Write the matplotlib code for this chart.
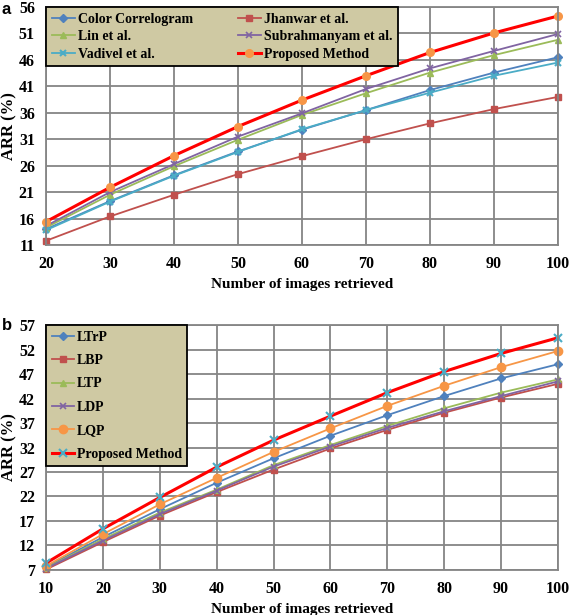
import matplotlib.pyplot as plt
import numpy as np

# panel a
xa = [20, 30, 40, 50, 60, 70, 80, 90, 100]
color_corr = [14.0, 19.3, 24.2, 28.7, 32.8, 36.5, 40.3, 43.6, 46.5]
jhanwar = [11.8, 16.4, 20.5, 24.4, 27.8, 31.0, 34.0, 36.7, 39.0]
lin = [14.3, 20.5, 25.9, 30.9, 35.6, 39.7, 43.6, 46.9, 49.8]
subrahmanyam = [14.6, 21.0, 26.3, 31.5, 35.9, 40.5, 44.4, 47.7, 50.9]
vadivel = [13.8, 19.2, 24.1, 28.6, 32.9, 36.5, 39.8, 43.0, 45.5]
proposed_a = [15.4, 21.9, 27.9, 33.4, 38.4, 43.0, 47.4, 51.1, 54.3]

# panel b
xb = [10, 20, 30, 40, 50, 60, 70, 80, 90, 100]
ltrp = [7.6, 13.7, 19.4, 24.8, 29.8, 34.4, 38.6, 42.5, 46.1, 49.0]
lbp = [7.1, 12.7, 18.1, 22.9, 27.5, 31.8, 35.6, 39.1, 42.2, 45.0]
ltp = [7.4, 13.3, 18.7, 23.4, 28.4, 32.5, 36.4, 40.0, 43.2, 45.9]
ldp = [7.3, 13.0, 18.4, 23.2, 28.1, 32.2, 36.0, 39.4, 42.5, 45.5]
lqp = [7.8, 14.3, 20.4, 25.8, 31.1, 35.9, 40.5, 44.6, 48.4, 51.7]
proposed_b = [8.4, 15.4, 21.8, 28.0, 33.5, 38.4, 43.2, 47.5, 51.2, 54.4]

BLUE, RED, GREEN, PURPLE, CYAN, ORANGE = '#4F81BD', '#C0504D', '#9BBB59', '#8064A2', '#4BACC6', '#F79646'
serif = 'Liberation Serif'

fig = plt.figure(figsize=(5.72, 6.15), dpi=100)
ax1 = fig.add_axes([0.0804, 0.6016, 0.8951, 0.387])
ax2 = fig.add_axes([0.0804, 0.0732, 0.8951, 0.3983])


def style(ax, xs, yticks):
    ax.set_xlim(xs[0], xs[-1])
    ax.set_ylim(yticks[0], yticks[-1])
    ax.set_xticks(xs)
    ax.set_yticks(yticks)
    ax.grid(True, color='#858585', lw=1.3)
    ax.set_axisbelow(True)
    for s in ax.spines.values():
        s.set_color('#858585')
        s.set_linewidth(1.3)
    ax.tick_params(length=0, pad=8)
    for t in ax.get_xticklabels() + ax.get_yticklabels():
        t.set_fontfamily(serif)
        t.set_fontweight('bold')
        t.set_fontsize(11.5)
    ax.set_xlabel('Number of images retrieved', fontfamily=serif, fontweight='bold', fontsize=11)
    ax.set_ylabel('ARR (%)', fontfamily=serif, fontweight='bold', fontsize=12, labelpad=1)


def legend_box(leg):
    fr = leg.get_frame()
    fr.set_facecolor('#CFC9A3')
    fr.set_edgecolor('black')
    fr.set_linewidth(1.3)
    fr.set_alpha(1)


kw = dict(lw=1.3, ms=5, clip_on=False)
h1 = ax1.plot(xa, color_corr, '-D', color=BLUE, ms=4, lw=1.3, clip_on=False, label='Color Correlogram')[0]
h2 = ax1.plot(xa, jhanwar, '-s', color=RED, label='Jhanwar et al.', **kw)[0]
h3 = ax1.plot(xa, lin, '-^', color=GREEN, label='Lin et al.', **kw)[0]
h4 = ax1.plot(xa, subrahmanyam, '-x', color=PURPLE, mew=1.2, label='Subrahmanyam et al.', **kw)[0]
h5 = ax1.plot(xa, vadivel, '-x', color=CYAN, mew=1.5, label='Vadivel et al.', **kw)[0]
h6 = ax1.plot(xa, proposed_a, '-o', color='#FF0000', mfc=ORANGE, mec=ORANGE, lw=2.2, ms=5.5,
              clip_on=False, label='Proposed Method')[0]
style(ax1, xa, np.arange(11, 57, 5))
leg1 = ax1.legend(handles=[h1, h3, h5, h2, h4, h6], ncol=2, loc='upper left',
                  bbox_to_anchor=(0, 1), borderaxespad=0, fancybox=False, borderpad=0.4,
                  prop={'family': serif, 'weight': 'bold', 'size': 10},
                  handlelength=1.7, columnspacing=3.2, labelspacing=0.33, handletextpad=0.2)
legend_box(leg1)

g1 = ax2.plot(xb, ltrp, '-D', color=BLUE, ms=4, lw=1.3, clip_on=False, label='LTrP')[0]
g2 = ax2.plot(xb, lbp, '-s', color=RED, label='LBP', **kw)[0]
g3 = ax2.plot(xb, ltp, '-^', color=GREEN, label='LTP', **kw)[0]
g4 = ax2.plot(xb, ldp, '-x', color=PURPLE, mew=1.2, label='LDP', **kw)[0]
g5 = ax2.plot(xb, lqp, '-o', color=ORANGE, label='LQP', lw=1.3, ms=6, clip_on=False)[0]
g6 = ax2.plot(xb, proposed_b, '-x', color='#FF0000', mec=CYAN, mew=1.5, lw=2.2, ms=5.5,
              clip_on=False, label='Proposed Method')[0]
style(ax2, xb, np.arange(7, 58, 5))
leg2 = ax2.legend(handles=[g1, g2, g3, g4, g5, g6], loc='upper left',
                  bbox_to_anchor=(0, 1), borderaxespad=0, fancybox=False, borderpad=0.4,
                  prop={'family': serif, 'weight': 'bold', 'size': 10},
                  handlelength=1.6, labelspacing=0.75, handletextpad=0.2)
legend_box(leg2)

fig.text(0.003, 0.985, 'a', fontfamily='Liberation Sans', fontweight='bold', fontsize=12, va='center')
fig.text(0.003, 0.47, 'b', fontfamily='Liberation Sans', fontweight='bold', fontsize=12, va='center')

fig.savefig('out.png', dpi=100)
